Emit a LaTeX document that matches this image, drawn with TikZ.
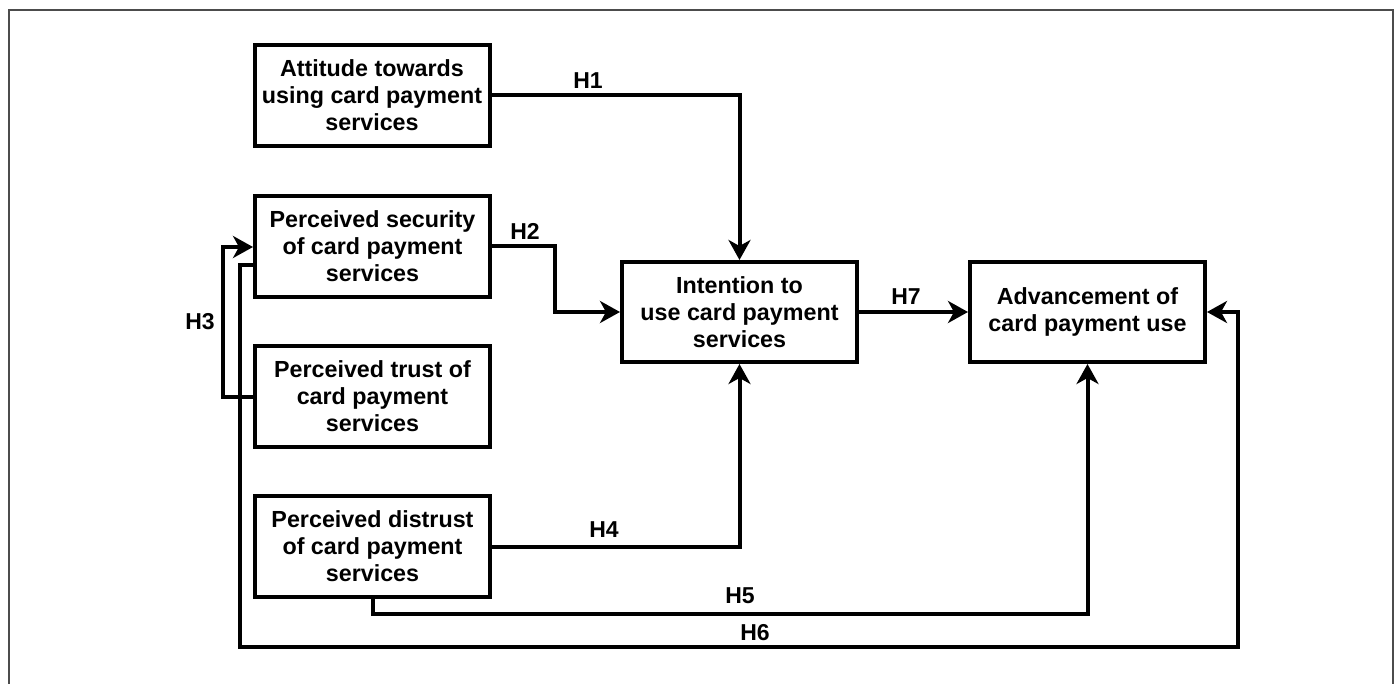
\documentclass[tikz,border=0pt]{standalone}
\usepackage{fontspec}
\setmainfont{Liberation Sans}
\usetikzlibrary{arrows.meta}
\begin{document}
\begin{tikzpicture}[x=1pt,y=-1pt,
  box/.style={draw=black,line width=4pt,minimum width=235pt,minimum height=101pt,align=center,inner sep=2pt,font=\fontsize{23.3}{27}\selectfont\bfseries},
  lab/.style={font=\fontsize{23}{27}\selectfont\bfseries,inner sep=0pt},
  conn/.style={line width=4pt},
  arr/.style={conn,-{Stealth[length=20pt,width=22pt,inset=6pt]}}]
\useasboundingbox (0,0) rectangle (1397,684);
\draw[line width=1.5pt,draw=black!70] (9,690) -- (9,10) -- (1393,10) -- (1393,690);
\node[box] (att) at (372,95.5) {Attitude towards\\using card payment\\services};
\node[box] (sec) at (372.5,246.5) {Perceived security\\of card payment\\services};
\node[box] (tru) at (372.5,396.5) {Perceived trust of\\card payment\\services};
\node[box] (dis) at (372.5,546.5) {Perceived distrust\\of card payment\\services};
\node[box,minimum height=100pt] (int) at (739.5,312) {Intention to\\use card payment\\services};
\node[box,minimum height=100pt] (adv) at (1087.5,312) {Advancement of\\card payment use};
\coordinate (h2) at (555,246.5);
\coordinate (h3a) at (223,397);
\coordinate (h3b) at (223,247);
\coordinate (h5) at (372.5,614);
\coordinate (h6a) at (240,265);
\coordinate (h6b) at (240,647);
\coordinate (h6c) at (1238,647);
\coordinate (h6d) at (1238,312);
\draw[arr] (att.east) -| (int.north);
\draw[arr] (sec.east) -- (h2) |- (int.west);
\draw[arr] (int.east) -- (adv.west);
\draw[arr] (dis.east) -| (int.south);
\draw[arr] (dis.south) -- (h5) -| (adv.south);
\draw[arr] (tru.west |- h3a) -- (h3a) -- (h3b) -- (sec.west |- h3b);
\draw[arr] (sec.west |- h6a) -- (h6a) -- (h6b) -- (h6c) -- (h6d) -- (adv.east);
\node[lab] (l1) at (588,81) {H1};
\node[lab] (l2) at (525,231) {H2};
\node[lab] (l3) at (200,322) {H3};
\node[lab] (l4) at (604,530) {H4};
\node[lab] (l5) at (740,596) {H5};
\node[lab] (l6) at (755,633) {H6};
\node[lab] (l7) at (906,297) {H7};
\end{tikzpicture}
\end{document}
